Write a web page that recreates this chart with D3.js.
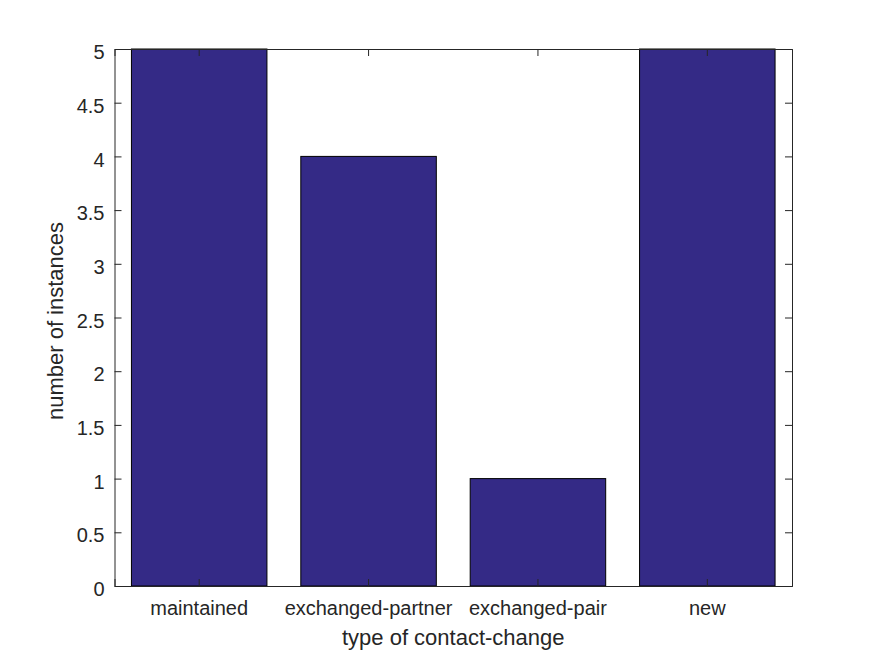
<!DOCTYPE html>
<html>
<head>
<meta charset="utf-8">
<script src="https://cdn.jsdelivr.net/npm/d3@7"></script>
<style>
  body { margin: 0; background: #fff; }
  text { font-family: Arial, "Liberation Sans", sans-serif; fill: #262626; }
</style>
</head>
<body>
<svg id="chart"></svg>
<script>
const categories = ['maintained', 'exchanged-partner', 'exchanged-pair', 'new'];
const counts = [5, 4, 1, 5];
const yTicks = [0, 0.5, 1, 1.5, 2, 2.5, 3, 3.5, 4, 4.5, 5];

const width = 875, height = 656;
const margin = {top: 49, right: 83, bottom: 70, left: 114.5};
const w = width - margin.left - margin.right;
const h = height - margin.top - margin.bottom;

const svg = d3.select('#chart').attr('width', width).attr('height', height);
const g = svg.append('g').attr('transform', `translate(${margin.left},${margin.top})`);

const x = d3.scaleBand().domain(categories).range([0, w]).paddingInner(0.2).paddingOuter(0.1);
const y = d3.scaleLinear().domain([0, 5]).range([h, 0]);

// bars
g.selectAll('.bar')
  .data(categories)
  .join('rect')
    .attr('class', 'bar')
    .attr('x', d => x(d))
    .attr('width', x.bandwidth())
    .attr('y', (d, i) => y(counts[i]))
    .attr('height', (d, i) => h - y(counts[i]))
    .attr('fill', '#342a86')
    .attr('stroke', '#000')
    .attr('stroke-width', 1);

const tickLen = 7;
const axisColor = '#262626';

// bottom axis
const xAxis = d3.axisBottom(x).tickSize(-tickLen).tickPadding(15);
g.append('g').attr('transform', `translate(0,${h})`).call(xAxis)
  .call(a => a.selectAll('text').style('font-size', '20px').attr('fill', axisColor))
  .call(a => a.selectAll('line,path').attr('stroke', axisColor));

// top axis
g.append('g').call(d3.axisTop(x).tickSize(-tickLen).tickFormat(''))
  .call(a => a.selectAll('line,path').attr('stroke', axisColor));

// left axis
g.append('g').call(d3.axisLeft(y).tickValues(yTicks).tickSize(-tickLen).tickPadding(10).tickFormat(d3.format('')))
  .call(a => a.selectAll('text').style('font-size', '20px').attr('dy', '0.48em').attr('fill', axisColor))
  .call(a => a.selectAll('line,path').attr('stroke', axisColor));

// right axis
g.append('g').attr('transform', `translate(${w},0)`)
  .call(d3.axisRight(y).tickValues(yTicks).tickSize(-tickLen).tickFormat(''))
  .call(a => a.selectAll('line,path').attr('stroke', axisColor));

// axis titles
svg.append('text')
  .attr('x', margin.left + w / 2)
  .attr('y', 645)
  .attr('text-anchor', 'middle')
  .style('font-size', '22px')
  .text('type of contact-change');

svg.append('text')
  .attr('transform', `translate(63,321) rotate(-90)`)
  .attr('text-anchor', 'middle')
  .style('font-size', '22px')
  .text('number of instances');
</script>
</body>
</html>
